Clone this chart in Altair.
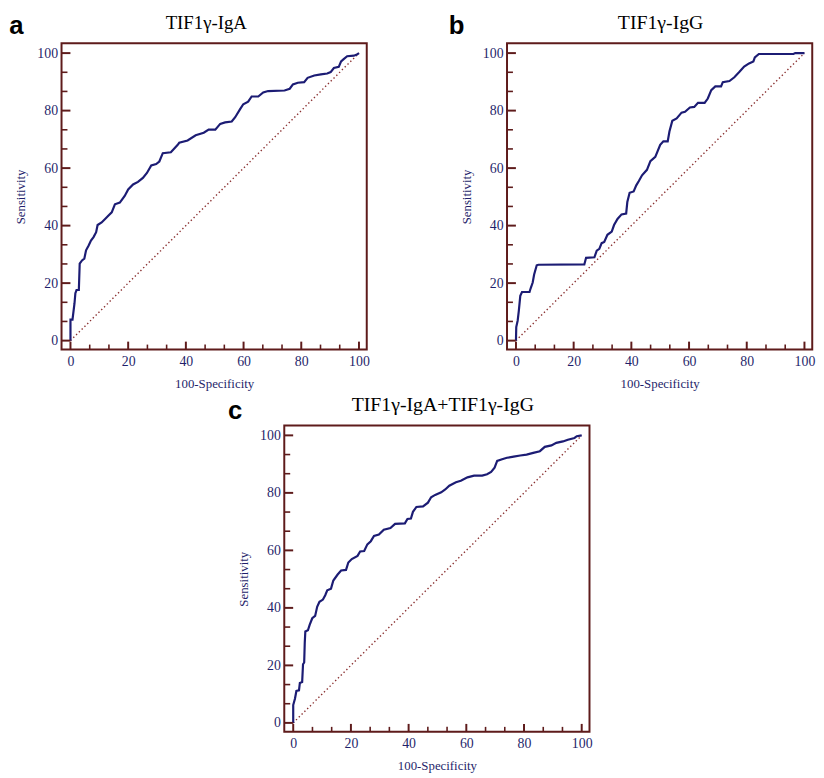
import altair as alt
import pandas as pd

# ---------------- data ----------------
major_ticks = [0, 20, 40, 60, 80, 100]
minor_ticks = [6.67, 13.33, 26.67, 33.33, 46.67, 53.33, 66.67, 73.33, 86.67, 93.33]

panel_labels = ["a", "b", "c"]
panel_titles = ["TIF1γ-IgA", "TIF1γ-IgG", "TIF1γ-IgA+TIF1γ-IgG"]

diag_x = [0, 100]
diag_y = [0, 100]

a_fpr = [0, 0, 0.7, 1.4, 1.7, 2.1, 2.9, 3.2, 4.0, 4.8, 5.4, 6.3, 7.1, 8.0, 8.9, 9.4,
         10.8, 12.0, 13.1, 14.3, 15.4, 17.1, 18.8, 20.0, 21.7, 23.4, 25.1, 26.5, 28.0,
         29.7, 30.8, 32.0, 34.8, 37.1, 37.7, 40.6, 43.4, 46.2, 47.9, 50.2, 51.9, 53.6,
         55.9, 57.1, 58.8, 59.9, 61.6, 62.8, 65.1, 66.8, 68.5, 74.2, 76.0, 77.1, 78.8,
         81.0, 82.2, 84.5, 86.8, 89.0, 90.2, 91.3, 93.0, 93.8, 94.7, 95.9, 98.2, 99.3, 100]
a_tpr = [0, 7.3, 7.3, 13, 16.5, 17.6, 17.6, 26.8, 27.9, 28.5, 31.4, 33.1, 34.8, 36, 37.7, 40.2,
         41.1, 42.3, 43.4, 44.6, 47.4, 48, 50.3, 52.6, 54.3, 55.2, 56.6, 58.3, 60.9,
         61.4, 62.3, 65.2, 65.5, 68, 68.8, 69.6, 71.4, 72.3, 73.4, 73.4, 75.4, 75.9,
         76.2, 77.7, 80.5, 82.2, 83.1, 84.9, 84.9, 86.3, 86.8, 87, 87.6, 89.1, 89.7,
         89.9, 91.4, 92.2, 92.6, 92.9, 93.4, 94.8, 95.2, 97.1, 97.9, 98.9, 99.1, 99.5, 100]

b_fpr = [0, 0.1, 0.6, 1.0, 1.5, 2.1, 4.7, 5.1, 5.8, 6.3, 7.2, 7.8, 23.7, 24.3, 27.2, 28.0,
         28.9, 29.7, 30.6, 31.7, 33.2, 34.0, 35.2, 36.6, 38.2, 38.6, 39.4, 40.8, 41.7,
         42.6, 43.7, 45.4, 46.6, 48.3, 50.0, 51.1, 52.6, 53.2, 54.2, 55.7, 57.4, 58.6,
         60.3, 61.8, 63.1, 65.4, 66.5, 67.7, 69.1, 71.1, 71.7, 74.0, 75.7, 77.4, 79.1,
         80.8, 82.3, 82.8, 84.2, 96.2, 96.8, 100]
b_tpr = [0, 4.7, 7, 10.4, 15.6, 16.9, 16.9, 18.2, 20.2, 23, 26.2, 26.4, 26.5, 28.8, 29, 31.3,
         31.9, 33.9, 34.3, 36.8, 37.9, 40.2, 42.3, 43.9, 44.2, 48.2, 51.4, 51.9, 54,
         55.5, 57.5, 59.4, 62.4, 63.9, 68.1, 69.3, 69.3, 72.7, 76.5, 77.3, 79.3, 79.6,
         81.1, 81.3, 82.7, 82.7, 84.2, 87.1, 88.4, 88.4, 89.9, 90.3, 91.6, 93.4, 95.3,
         96.4, 97.1, 98.5, 99.7, 99.7, 100, 100]

c_fpr = [0, 0, 0.6, 1.1, 2.0, 2.3, 3.1, 3.4, 3.8, 4.0, 4.2, 5.1, 5.7, 6.6, 7.6, 8.3, 9.1,
         10.3, 11.1, 11.8, 13.1, 13.9, 15.4, 16.6, 18.3, 19.1, 20.3, 22.3, 23.2, 24.6,
         25.7, 26.9, 28.0, 29.7, 31.4, 33.7, 35.3, 38.7, 39.6, 40.8, 41.5, 42.7, 45.0,
         46.7, 47.8, 49.2, 51.3, 52.7, 54.1, 56.4, 58.1, 60.4, 62.7, 65.5, 67.2, 68.6,
         69.8, 70.7, 72.4, 74.1, 76.4, 78.7, 80.9, 83.2, 85.5, 87.2, 89.5, 91.2, 93.5,
         95.2, 97.5, 98.3, 100]
c_tpr = [0, 6.2, 8.4, 11.1, 11.3, 13.9, 14.2, 20.4, 21, 27.9, 31.8, 32.2, 34.1, 36.4, 37.2, 40.4, 42.1,
         42.9, 44.4, 46.1, 46.7, 49.5, 51.6, 53, 53.2, 55.8, 57, 58.1, 59.6, 59.8,
         62.1, 63.2, 65, 65.5, 67.2, 67.8, 69.2, 69.4, 70.9, 71.1, 73.4, 75.1, 75.3,
         76.6, 78.5, 79.3, 80.2, 81.2, 82.5, 83.7, 84.2, 85.4, 86, 86, 86.5, 87.3,
         88.8, 91.1, 91.7, 92.2, 92.6, 93, 93.3, 93.9, 94.5, 96, 96.5, 97.4, 97.9,
         98.5, 99.1, 99.7, 100]

# ---------------- styling ----------------
FRAME = "#5e1b1b"
NAVY = "#1c1c74"
TEXT = "#1f1f6b"
DIAG = "#8a3030"
SERIF = "Liberation Serif"
W, H = 309, 310
XDOM = [-3.1, 102.7]
YDOM = [-3.1, 103.4]


def panel(label, title, fpr, tpr, title_dx, title_size, lab_x, lab_y):
    xs = alt.Scale(domain=XDOM, nice=False, zero=False)
    ys = alt.Scale(domain=YDOM, nice=False, zero=False)
    xax = alt.Axis(values=major_ticks, title="100-Specificity", ticks=False, domain=False,
                   grid=False, labelPadding=5, titlePadding=9, format="d")
    yax = alt.Axis(values=major_ticks, title="Sensitivity", ticks=False, domain=False,
                   grid=False, labelPadding=4, titlePadding=9, format="d")

    def X(f):
        return alt.X(f, scale=xs, axis=xax)

    def Y(f):
        return alt.Y(f, scale=ys, axis=yax)

    curve_df = pd.DataFrame({"fpr": fpr, "tpr": tpr, "idx": list(range(len(fpr)))})
    diag_df = pd.DataFrame({"fpr": diag_x, "tpr": diag_y})
    xmaj = pd.DataFrame({"fpr": major_ticks})
    xmin = pd.DataFrame({"fpr": minor_ticks})
    ymaj = pd.DataFrame({"tpr": major_ticks})
    ymin = pd.DataFrame({"tpr": minor_ticks})
    lab_df = pd.DataFrame({"lab": [label], "title": [title]})

    diag = alt.Chart(diag_df).mark_line(color=DIAG, strokeWidth=1.4, strokeDash=[1.4, 2.6]).encode(
        x=X("fpr:Q"), y=Y("tpr:Q"))
    curve = alt.Chart(curve_df).mark_line(color=NAVY, strokeWidth=2.2).encode(
        x=X("fpr:Q"), y=Y("tpr:Q"), order="idx:Q")
    t_xmaj = alt.Chart(xmaj).mark_rule(color=FRAME, strokeWidth=2).encode(
        x=X("fpr:Q"), y=alt.value(H), y2=alt.value(H - 8))
    t_xmin = alt.Chart(xmin).mark_rule(color=FRAME, strokeWidth=1.6).encode(
        x=X("fpr:Q"), y=alt.value(H), y2=alt.value(H - 5))
    t_ymaj = alt.Chart(ymaj).mark_rule(color=FRAME, strokeWidth=2).encode(
        y=Y("tpr:Q"), x=alt.value(0), x2=alt.value(9))
    t_ymin = alt.Chart(ymin).mark_rule(color=FRAME, strokeWidth=1.6).encode(
        y=Y("tpr:Q"), x=alt.value(0), x2=alt.value(6))
    lab = alt.Chart(lab_df).mark_text(font="Liberation Sans", fontSize=26, fontWeight="bold",
                                      align="left", baseline="alphabetic", color="black").encode(
        text="lab:N", x=alt.value(lab_x), y=alt.value(lab_y))
    ttl = alt.Chart(lab_df).mark_text(font=SERIF, fontSize=title_size, fontWeight="normal",
                                      align="center", baseline="alphabetic", color="black").encode(
        text="title:N", x=alt.value(W / 2 + title_dx), y=alt.value(-15))

    return alt.layer(diag, curve, t_xmaj, t_xmin, t_ymaj, t_ymin, lab, ttl).properties(
        width=W, height=H,
    )


pa = panel(panel_labels[0], panel_titles[0], a_fpr, a_tpr, -8, 19, -53, -9)
pb = panel(panel_labels[1], panel_titles[1], b_fpr, b_tpr, 1, 20, -59, -9)
pc = panel(panel_labels[2], panel_titles[2], c_fpr, c_tpr, 6, 20, -57, -7)

row = alt.hconcat(pa, pb, spacing=78)
chart = alt.vconcat(row, pc, spacing=3, center=True).properties(
    padding={"left": 0, "top": -1, "right": 0, "bottom": 0}
).configure_view(
    stroke=FRAME, strokeWidth=2
).configure_axis(
    labelFont=SERIF, labelFontSize=14, labelColor=TEXT,
    titleFont=SERIF, titleFontSize=13, titleColor=TEXT, titleFontWeight="normal",
)

chart.save("out.html", embed_options={"renderer": "svg", "actions": False})
